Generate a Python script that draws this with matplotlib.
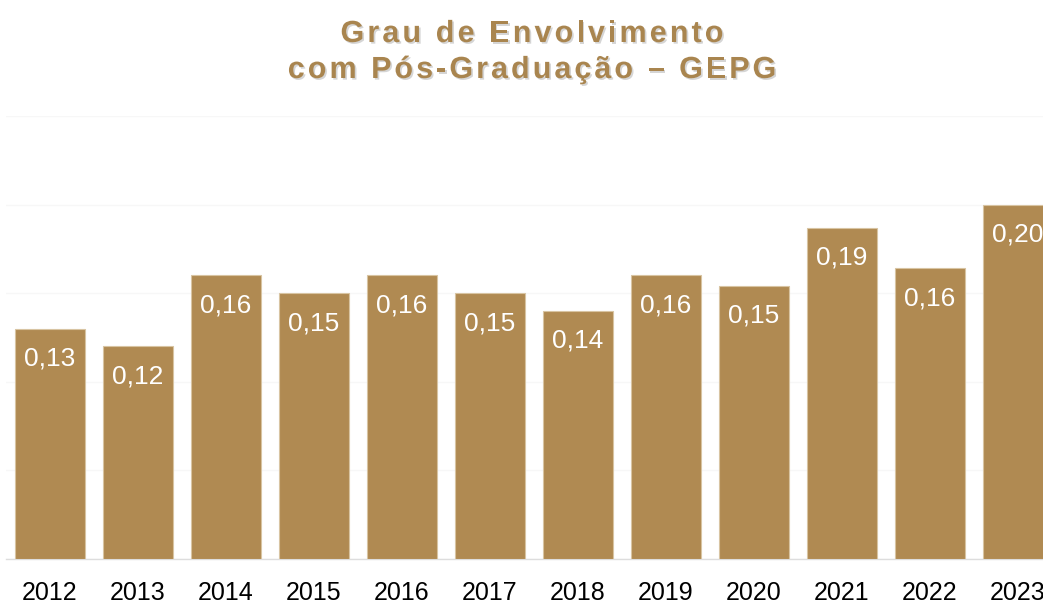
import matplotlib
matplotlib.use("Agg")
import matplotlib.pyplot as plt
import matplotlib.patheffects as pe
import numpy as np

years = ["2012", "2013", "2014", "2015", "2016", "2017",
         "2018", "2019", "2020", "2021", "2022", "2023"]
gepg = [0.13, 0.12, 0.16, 0.15, 0.16, 0.15,
        0.14, 0.16, 0.154, 0.187, 0.164, 0.20]

title_lines = ["Grau de Envolvimento", "com Pós-Graduação – GEPG"]

gold = "#B08A52"
title_gold = "#A9854F"

plt.rcParams["font.family"] = ["Liberation Sans", "DejaVu Sans"]

W, H, DPI = 1043, 602, 100
fig = plt.figure(figsize=(W / DPI, H / DPI), dpi=DPI)
fig.patch.set_facecolor("white")

# axes run a little past the right edge of the figure
ax = fig.add_axes([6 / W, 43 / H, 1056 / W, 443 / H])
x = np.arange(len(years))
bars = ax.bar(x, gepg, width=0.8, color=gold, edgecolor="#D8C4A2",
              linewidth=0.8, zorder=3)

ax.set_xlim(-0.5, len(years) - 0.5)
ax.set_ylim(0, 0.25)
ax.set_yticks(np.arange(0, 0.26, 0.05))
ax.yaxis.grid(True, color="#F7F7F7", linewidth=1.0, zorder=0)
ax.set_axisbelow(True)
ax.tick_params(axis="y", left=False, labelleft=False)
ax.tick_params(axis="x", bottom=False, pad=12, labelsize=18)
ax.set_xticks(x)
ax.set_xticklabels(years)
for s in ["top", "right", "left"]:
    ax.spines[s].set_visible(False)
ax.spines["bottom"].set_color("#DDDDDD")
ax.spines["bottom"].set_linewidth(1.0)

for b, v in zip(bars, gepg):
    ax.annotate(f"{v:.2f}".replace(".", ","),
                xy=(b.get_x() + b.get_width() / 2, v),
                xytext=(0, -21.5), textcoords="offset points",
                ha="center", va="center", fontsize=19, color="white",
                zorder=4)


def tracked_text(fig, s, cx, base_y, size, tracking, color):
    # draw a string one glyph at a time with extra letter spacing (pixels)
    fig.canvas.draw()
    r = fig.canvas.get_renderer()
    prop = matplotlib.font_manager.FontProperties(
        family=["Liberation Sans", "DejaVu Sans"], weight="bold", size=size)

    def w(t):
        if not t.strip():
            return 0.0
        return r.get_text_width_height_descent(t, prop, ismath=False)[0]

    total = w(s) + tracking * (len(s) - 1)
    x0 = cx - total / 2
    shadow = [pe.withSimplePatchShadow(offset=(1.2, -1.2),
                                       shadow_rgbFace="#888888", alpha=0.35)]
    for i, ch in enumerate(s):
        if ch == " ":
            continue
        pos = x0 + w(s[:i + 1]) - w(ch) + i * tracking
        fig.text(pos / W, 1 - base_y / H, ch, fontproperties=prop,
                 color=color, ha="left", va="baseline", path_effects=shadow)


tracked_text(fig, title_lines[0], 532, 42, 22, 3.1, title_gold)
tracked_text(fig, title_lines[1], 532, 78, 22, 3.0, title_gold)

fig.savefig("out.png", dpi=DPI, facecolor="white")
